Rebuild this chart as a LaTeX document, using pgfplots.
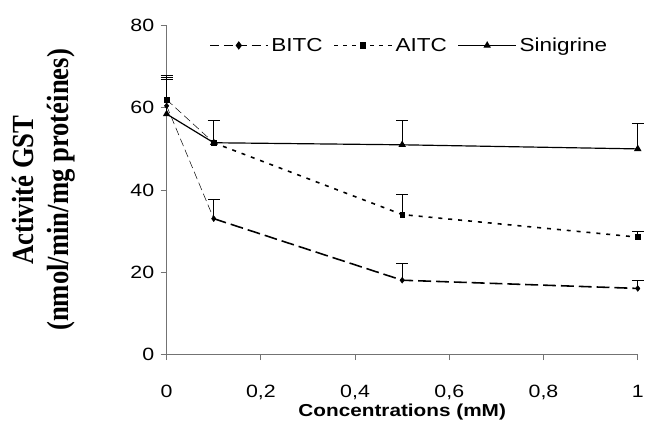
\documentclass[border=0pt]{standalone}
\usepackage{graphicx}
\usepackage{pgfplots}
\pgfplotsset{compat=1.18}
\usepackage{fontspec}
\setmainfont{Liberation Serif}
\setsansfont{Liberation Sans}
\newfontfamily\arial{Liberation Sans}
% slightly widened sans text
\newcommand\wide[1]{\scalebox{1.2}[1]{#1}}

\begin{document}
\begin{tikzpicture}
\begin{axis}[
  scale only axis,
  width=475bp, height=331bp,
  xmin=0, xmax=1, ymin=0, ymax=80,
  axis x line*=bottom, axis y line*=left,
  axis line style={draw=gray!90!black, line width=0.8pt},
  xtick={0,0.2,0.4,0.6,0.8,1},
  ytick={0,20,40,60,80},
  tick align=outside,
  major tick length=6bp,
  tick style={draw=gray!90!black, line width=0.8pt},
  /pgf/number format/use comma,
  /pgf/number format/assume math mode=true,
  xticklabel={\wide{\pgfmathprintnumber{\tick}}},
  yticklabel={\wide{\pgfmathprintnumber{\tick}}},
  ticklabel style={font=\arial\fontsize{18}{20}\selectfont, text=black},
  xticklabel style={yshift=-22bp},
  yticklabel style={xshift=-3bp},
  xlabel={\wide{\arial\bfseries Concentrations (mM)}},
  xlabel style={font=\fontsize{17.5}{20}\selectfont, at={(axis description cs:0.5,0)},
    anchor=center, yshift=-58bp},
  ylabel={\scalebox{1}[1.15]{\begin{tabular}{@{}c@{}}Activité GST\\[2bp](nmol/min/mg protéines)\end{tabular}}},
  ylabel style={font=\bfseries\fontsize{27}{29}\selectfont, at={(axis description cs:0,0.5)},
    anchor=center, yshift=123bp},
  clip=false,
  legend style={draw=none, fill=none, at={(rel axis cs:0.09,0.94)}, anchor=west,
    font=\arial\fontsize{19}{21}\selectfont, column sep=1bp, inner sep=0pt,
    nodes={inner sep=2bp},
    /tikz/every even column/.append style={column sep=9bp}},
  legend columns=3,
  legend image code/.code={%
    \draw[mark repeat=2, mark phase=2]
      plot coordinates {(0bp,0bp) (29bp,0bp) (58bp,0bp)};},
  error bars/y dir=plus, error bars/y explicit,
  error bars/error bar style={black, solid, line width=0.9pt},
  error bars/error mark options={rotate=90, mark size=6bp, line width=0.9pt, solid, black},
  bitc/.style={black, line width=1.6pt, dash pattern=on 13bp off 5bp},
  aitc/.style={black, line width=1.6pt, dash pattern=on 4bp off 6bp},
  sini/.style={black, line width=1.2pt, solid},
]
% frame of the whole figure
\path (rel axis cs:0,0) ++(-168bp,-69bp) rectangle ++(647bp,426bp);

% legend entries
\addlegendimage{black, line width=1.6pt, dash pattern=on 9bp off 5bp, mark=diamond*, mark size=3bp, mark options={solid}}
\addlegendentry{\wide{BITC}}
\addlegendimage{black, line width=1.6pt, dash pattern=on 4bp off 5bp, mark=square*, mark size=2.5bp, mark options={solid}}
\addlegendentry{\wide{AITC}}
\addlegendimage{sini, mark=triangle*, mark size=3.2bp}
\addlegendentry{\wide{Sinigrine}}

% BITC: thin first segment, heavy dashes afterwards
\addplot[black, line width=0.5pt, dash pattern=on 8bp off 4bp, forget plot]
  coordinates {(0,60.5) (0.1,33)};
\addplot[bitc, forget plot]
  coordinates {(0.1,33) (0.5,18) (1,16)};
\addplot[black, only marks, mark=diamond*, mark size=3bp, forget plot]
  coordinates {(0,60.5) +- (0,6.5) (0.1,33) +- (0,4.8) (0.5,18) +- (0,4) (1,16) +- (0,2)};

% AITC
\addplot[black, line width=0.5pt, dash pattern=on 8bp off 4bp, forget plot]
  coordinates {(0,62) (0.1,51.5)};
\addplot[aitc, forget plot]
  coordinates {(0.1,51.5) (0.5,34) (1,28.5)};
\addplot[black, only marks, mark=square*, mark size=2.5bp, forget plot]
  coordinates {(0,62) +- (0,5.5) (0.1,51.5) +- (0,5.5) (0.5,34) +- (0,5) (1,28.5) +- (0,1.5)};

% Sinigrine
\addplot[sini, mark=triangle*, mark size=3.2bp, forget plot]
  coordinates {(0,58.5) +- (0,9.5) (0.1,51.5) +- (0,5.5) (0.5,51) +- (0,6) (1,50) +- (0,6.3)};
\end{axis}
\end{tikzpicture}
\end{document}
